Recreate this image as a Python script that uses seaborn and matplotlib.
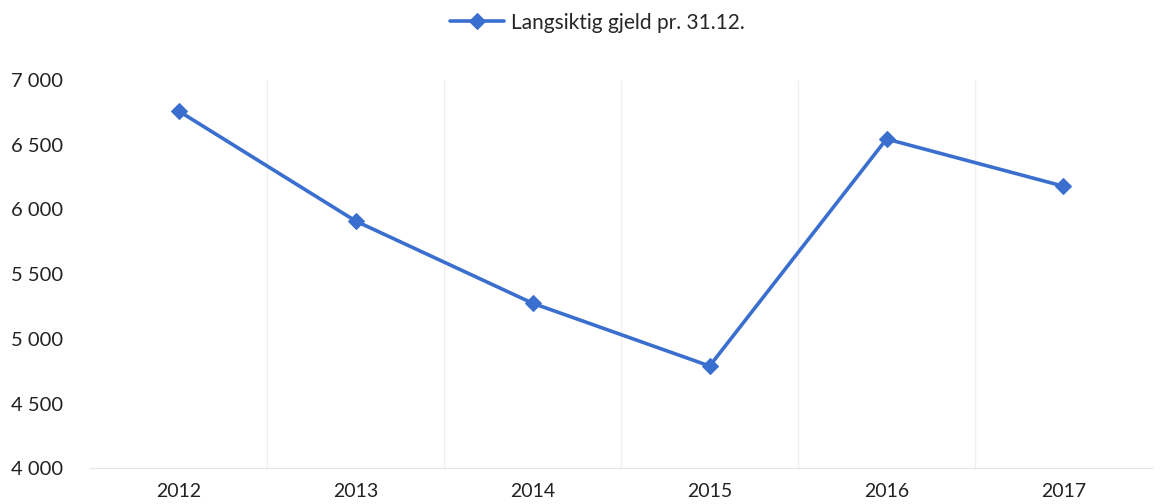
import matplotlib
matplotlib.use("Agg")

import numpy as np
import pandas as pd
import seaborn as sns
import matplotlib.pyplot as plt
from matplotlib import ticker

years = ["2012", "2013", "2014", "2015", "2016", "2017"]
gjeld = [6760, 5910, 5275, 4790, 6545, 6180]
series_name = "Langsiktig gjeld pr. 31.12."

df = pd.DataFrame({"year": years, "value": gjeld})
df["pos"] = np.arange(len(years))

sns.set_style("white")
plt.rcParams["font.family"] = ["Lato", "DejaVu Sans"]

fig = plt.figure(figsize=(11.6, 5.04), dpi=100)
ax = fig.add_axes([0.078, 0.071, 0.915, 0.77])

color = "#3a6fcf"
sns.lineplot(
    data=df, x="pos", y="value", ax=ax, color=color, linewidth=2.6,
    marker="D", markersize=8, markeredgecolor=color, label=series_name,
)

ax.set_xlim(-0.5, len(years) - 0.5)
ax.set_ylim(4000, 7000)
ax.set_yticks(np.arange(4000, 7001, 500))
ax.yaxis.set_major_formatter(
    ticker.FuncFormatter(lambda v, p: f"{int(v):,}".replace(",", " "))
)
ax.set_xticks(df["pos"])
ax.set_xticklabels(years)

# faint category boundaries
for b in np.arange(0.5, len(years) - 0.5, 1):
    ax.axvline(b, color="#f0f0f0", linewidth=1, zorder=0)

for s in ["top", "right", "left"]:
    ax.spines[s].set_visible(False)
ax.spines["bottom"].set_color("#e6e6e6")
ax.tick_params(axis="y", length=0, pad=20, labelsize=14.5, labelcolor="#222222")
ax.tick_params(axis="x", length=0, pad=11, labelsize=14, labelcolor="#222222")
ax.set_xlabel("")
ax.set_ylabel("")

ax.legend(
    loc="center", bbox_to_anchor=(0.515, 0.955), bbox_transform=fig.transFigure,
    frameon=False, fontsize=15, handlelength=2.6, handletextpad=0.3,
)

fig.savefig("out.png", dpi=100)
